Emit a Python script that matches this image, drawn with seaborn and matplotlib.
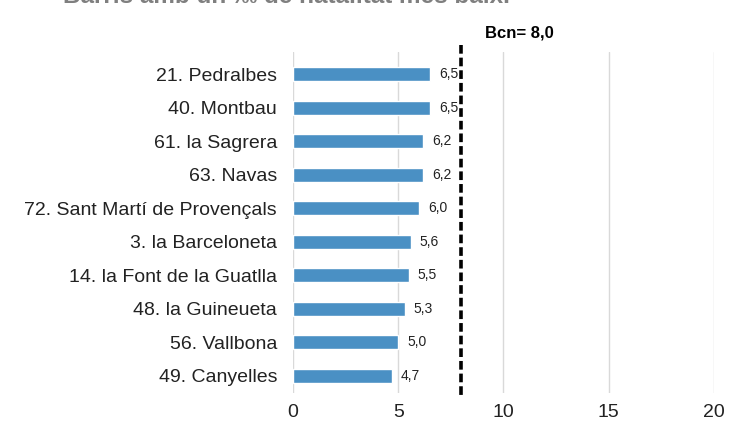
import matplotlib
matplotlib.use("Agg")
import matplotlib.pyplot as plt
import seaborn as sns
import pandas as pd

categories = ["21. Pedralbes", "40. Montbau", "61. la Sagrera", "63. Navas",
              "72. Sant Martí de Provençals", "3. la Barceloneta",
              "14. la Font de la Guatlla", "48. la Guineueta", "56. Vallbona",
              "49. Canyelles"]
values = [6.5, 6.5, 6.2, 6.2, 6.0, 5.6, 5.5, 5.3, 5.0, 4.7]
bcn_value = 8.0
bcn_label = "Bcn= 8,0"
title = "Barris amb un ‰ de natalitat més baix."
xticks = [0, 5, 10, 15, 20]

df = pd.DataFrame({"barri": categories, "valor": values})

sns.set_theme(style="white")
plt.rcParams['font.family'] = ['Liberation Sans', 'DejaVu Sans']

fig = plt.figure(figsize=(7.29, 4.22), dpi=100)
ax = fig.add_axes([0.4019, 0.0687, 0.5775, 0.808])

sns.barplot(data=df, x="valor", y="barri", color="#4A90C4", saturation=1,
            width=0.42, ax=ax, zorder=3)

ax.set_xlim(0, 20)
ax.set_ylim(9.507, -0.656)
ax.set_xticks(xticks)
ax.set_xticklabels([str(t) for t in xticks], fontsize=14, color="#222222")
ax.tick_params(axis="y", labelsize=14, colors="#222222", length=0, pad=11.5)
ax.tick_params(axis="x", length=0, pad=8)
ax.set_xlabel("")
ax.set_ylabel("")
ax.grid(axis="x", color="#D9D9D9", linewidth=1, zorder=0)
ax.grid(axis="y", visible=False)
for s in ax.spines.values():
    s.set_visible(False)

for i, v in enumerate(values):
    ax.annotate(f"{v:.1f}".replace(".", ","), (v, i), xytext=(6.5, 0),
                textcoords="offset points", ha="left", va="center",
                fontsize=10, color="#222222")

ax.plot([bcn_value, bcn_value], [-0.865, 9.567], color="black",
        linewidth=2.6, linestyle=(0, (2.4, 1.1)), clip_on=False, zorder=4)
ax.text(bcn_value + 1.12, -1.222, bcn_label, fontsize=12, fontweight="bold",
        ha="left", va="center", color="black")

fig.text(0.086, 0.993, title, fontsize=17.5, fontweight="bold",
         color="#7F7F7F", ha="left", va="baseline")

fig.savefig("out.png", dpi=100)
